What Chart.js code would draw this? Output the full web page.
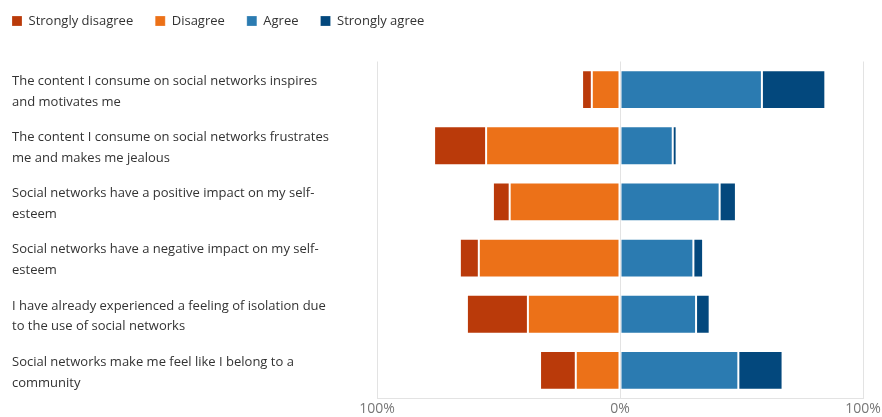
<!DOCTYPE html>
<html>
<head>
<meta charset="utf-8">
<script src="https://cdn.jsdelivr.net/npm/chart.js@4/dist/chart.umd.min.js"></script>
<style>
  html, body { margin: 0; padding: 0; background: #fff; }
  #wrap { width: 882px; height: 417px; }
</style>
</head>
<body>
<div id="wrap"><canvas id="likertChart"></canvas></div>
<script>
const statements = [
    ["The content I consume on social networks inspires", "and motivates me"],
    ["The content I consume on social networks frustrates", "me and makes me jealous"],
    ["Social networks have a positive impact on my self-", "esteem"],
    ["Social networks have a negative impact on my self-", "esteem"],
    ["I have already experienced a feeling of isolation due", "to the use of social networks"],
    ["Social networks make me feel like I belong to a", "community"],
];

// percentages
const stronglyDisagree = [4, 21.4, 6.9, 7.8, 25.1, 14.7];
const disagree = [11.6, 55.1, 45.4, 58.1, 37.9, 18.2];
const agree = [58.4, 21.7, 41, 30.2, 31.3, 48.7];
const stronglyAgree = [26.1, 1.6, 6.7, 4, 5.6, 18.2];

const legendOrder = ["Strongly disagree", "Disagree", "Agree", "Strongly agree"];
const colors = {
    "Strongly disagree": "#BA3A0A",
    Disagree: "#EC7118",
    Agree: "#2B7BB1",
    "Strongly agree": "#03487D",
};
const tickValues = [-100, 0, 100];

const fontFamily = "'Open Sans', 'Noto Sans', sans-serif";
const legendPad = 22;

function makeSet(label, values, sign) {
    return {
        label,
        data: values.map((v) => v * sign),
        backgroundColor: colors[label],
        borderColor: "rgba(255, 255, 255, 0.22)",
        borderWidth: 1,
        borderSkipped: false,
        barPercentage: 0.69,
        categoryPercentage: 1,
    };
}

// disagree goes first so it sits next to the 0% line
const datasets = [
    makeSet("Disagree", disagree, -1),
    makeSet("Strongly disagree", stronglyDisagree, -1),
    makeSet("Agree", agree, 1),
    makeSet("Strongly agree", stronglyAgree, 1),
];

// pull the legend up and flush with the labels on the left
const legendShift = {
    id: "legendShift",
    afterLayout(chart) {
        chart.legend.left -= legendPad;
        chart.legend.top -= 24;
    },
};

const ctx = document.getElementById("likertChart").getContext("2d");
new Chart(ctx, {
    type: "bar",
    data: { labels: statements, datasets },
    plugins: [legendShift],
    options: {
        indexAxis: "y",
        responsive: true,
        maintainAspectRatio: false,
        animation: false,
        layout: { padding: { left: 12, right: 19, top: 16.5, bottom: 0 } },
        plugins: {
            legend: {
                position: "top",
                align: "start",
                labels: {
                    boxWidth: 10,
                    boxHeight: 10,
                    padding: legendPad,
                    color: "#333",
                    font: { family: fontFamily, size: 13 },
                    sort: (a, b) => legendOrder.indexOf(a.text) - legendOrder.indexOf(b.text),
                },
            },
            tooltip: { enabled: false },
        },
        scales: {
            x: {
                stacked: true,
                min: -100,
                max: 100,
                afterBuildTicks: (axis) => {
                    axis.ticks = tickValues.map((v) => ({ value: v }));
                },
                afterFit: (axis) => {
                    axis.height = 18.5;
                    axis.paddingLeft = 0;
                    axis.paddingRight = 0;
                },
                grid: { color: "#e3e3e3", drawTicks: false },
                border: { color: "#e3e3e3" },
                ticks: {
                    color: "#777",
                    padding: 4,
                    font: { family: fontFamily, size: 14, lineHeight: 1 },
                    callback: (v) => `${Math.abs(v)}%`,
                },
            },
            y: {
                stacked: true,
                grid: { display: false },
                border: { display: false },
                ticks: {
                    crossAlign: "far",
                    labelOffset: 2,
                    color: "#333",
                    font: { family: fontFamily, size: 13, lineHeight: 1.6 },
                },
                afterFit: (axis) => {
                    axis.width = 365;
                    axis.paddingTop = 0;
                    axis.paddingBottom = 0;
                },
            },
        },
    },
});
</script>
</body>
</html>
